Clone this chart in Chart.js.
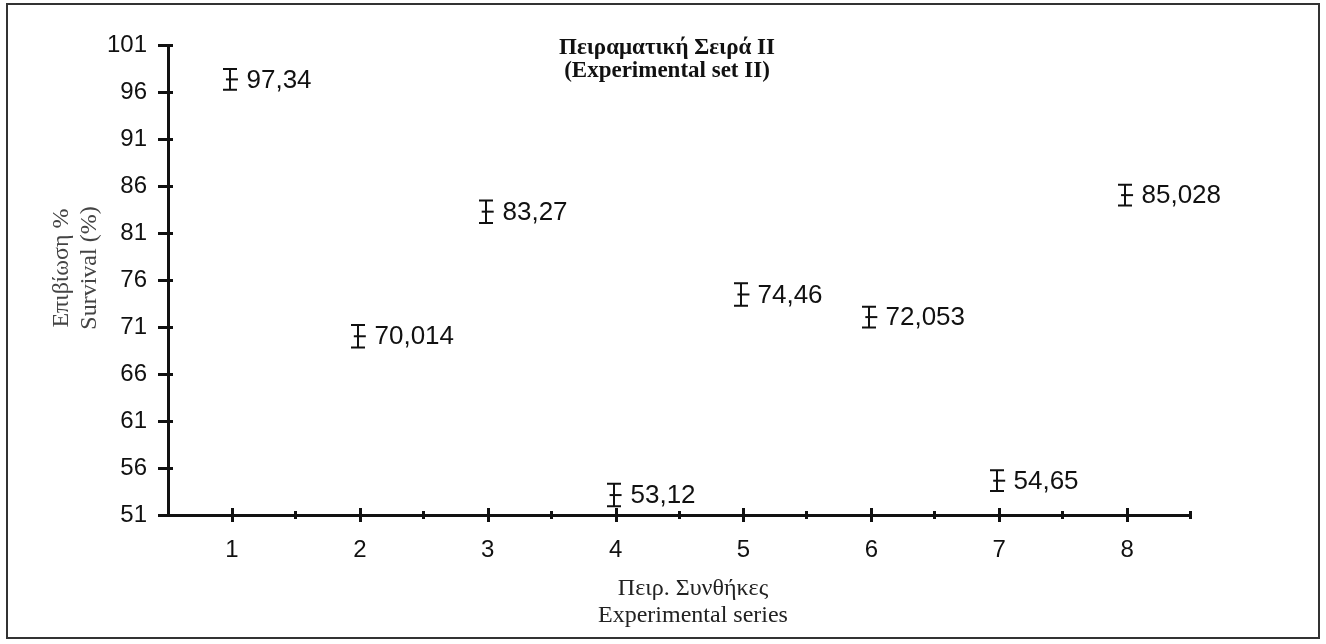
<!DOCTYPE html>
<html>
<head>
<meta charset="utf-8">
<script src="https://cdn.jsdelivr.net/npm/chart.js@4.4.1/dist/chart.umd.min.js"></script>
<style>
  html, body { margin: 0; padding: 0; background: #fff; }
  #wrap { position: relative; width: 1326px; height: 644px; }
</style>
</head>
<body>
<div id="wrap"><canvas id="chart" width="1326" height="644"></canvas></div>
<script>
// Experimental conditions (x) and mean survival % with error half-widths
const conditions = [1, 2, 3, 4, 5, 6, 7, 8];
const survival = [97.34, 70.014, 83.27, 53.12, 74.46, 72.053, 54.65, 85.028];
const survivalErr = [1.1, 1.2, 1.2, 1.2, 1.2, 1.1, 1.1, 1.1];

// Axis ticks
const yTicks = [51, 56, 61, 66, 71, 76, 81, 86, 91, 96, 101];
const xTicks = [1, 2, 3, 4, 5, 6, 7, 8];
const xMinorTicks = [1.5, 2.5, 3.5, 4.5, 5.5, 6.5, 7.5, 8.5];

// Text
const titleLines = ['Πειραματική Σειρά ΙΙ', '(Experimental set II)'];
const yTitleLines = ['Επιβίωση %', 'Survival (%)'];
const xTitleLines = ['Πειρ. Συνθήκες', 'Experimental series'];

const INK = '#111';
const SANS = '"Liberation Sans", Arial, sans-serif';
const SERIF = '"Liberation Serif", "Times New Roman", serif';

const fmt = v => String(v).replace('.', ',');

const decor = {
  id: 'decor',
  beforeDraw(chart) {
    const ctx = chart.ctx;
    ctx.save();
    ctx.fillStyle = '#fff';
    ctx.fillRect(0, 0, chart.width, chart.height);
    ctx.restore();
  },
  afterDraw(chart) {
    const ctx = chart.ctx;
    const xs = chart.scales.x, ys = chart.scales.y;
    ctx.save();

    // outer frame
    ctx.strokeStyle = '#333';
    ctx.lineWidth = 2;
    ctx.strokeRect(7, 4, 1312, 634);

    // y tick marks crossing the axis
    ctx.strokeStyle = INK;
    ctx.lineWidth = 3;
    const ax = xs.left;
    yTicks.forEach(v => {
      const y = Math.round(ys.getPixelForValue(v)) + 0.5;
      ctx.beginPath(); ctx.moveTo(ax - 10, y); ctx.lineTo(ax + 5, y); ctx.stroke();
    });

    // x tick marks crossing the axis
    const by = ys.bottom;
    xTicks.forEach(v => {
      const x = Math.round(xs.getPixelForValue(v)) + 0.5;
      ctx.beginPath(); ctx.moveTo(x, by - 7); ctx.lineTo(x, by + 7); ctx.stroke();
    });
    xMinorTicks.forEach(v => {
      const x = Math.round(xs.getPixelForValue(v)) - 0.5;
      ctx.beginPath(); ctx.moveTo(x, by - 4); ctx.lineTo(x, by + 4); ctx.stroke();
    });

    // error bars and value labels
    ctx.lineWidth = 2;
    ctx.font = '26px ' + SANS;
    ctx.fillStyle = INK;
    ctx.textAlign = 'left';
    ctx.textBaseline = 'middle';
    conditions.forEach((c, i) => {
      const x = Math.round(xs.getPixelForValue(c)) - 2.5;
      const yTop = ys.getPixelForValue(survival[i] + survivalErr[i]);
      const yBot = ys.getPixelForValue(survival[i] - survivalErr[i]);
      const y = ys.getPixelForValue(survival[i]);
      ctx.beginPath();
      ctx.moveTo(x + 0.5, yTop); ctx.lineTo(x + 0.5, yBot);
      ctx.moveTo(x - 6.5, yTop); ctx.lineTo(x + 7.5, yTop);
      ctx.moveTo(x - 6.5, yBot); ctx.lineTo(x + 7.5, yBot);
      ctx.stroke();
      ctx.fillText(fmt(survival[i]), x + 17, y + 1);
    });

    // chart title
    ctx.textAlign = 'center';
    ctx.font = 'bold 23px ' + SERIF;
    ctx.fillStyle = INK;
    ctx.fillText(titleLines[0], 667, 48);
    ctx.fillText(titleLines[1], 667, 71);

    // x axis title
    ctx.font = '24px ' + SERIF;
    ctx.fillStyle = '#222';
    ctx.fillText(xTitleLines[0], 693, 589);
    ctx.fillText(xTitleLines[1], 693, 616);

    // y axis title (rotated)
    ctx.fillStyle = '#444';
    ctx.translate(0, 268);
    ctx.rotate(-Math.PI / 2);
    ctx.fillText(yTitleLines[0], 0, 62);
    ctx.fillText(yTitleLines[1], 0, 90);

    ctx.restore();
  }
};

new Chart(document.getElementById('chart').getContext('2d'), {
  type: 'scatter',
  data: {
    datasets: [{
      data: conditions.map((c, i) => ({ x: c, y: survival[i] })),
      pointStyle: 'line',
      pointRadius: 6,
      borderColor: INK,
      backgroundColor: INK,
      borderWidth: 2,
      showLine: false
    }]
  },
  options: {
    responsive: false,
    animation: false,
    events: [],
    layout: { padding: { top: 45, right: 135, left: 0, bottom: 0 } },
    plugins: { legend: { display: false }, tooltip: { enabled: false } },
    scales: {
      x: {
        type: 'linear',
        min: 0.5,
        max: 8.5,
        afterFit(s) { s.height = 129; },
        afterBuildTicks(s) { s.ticks = xTicks.map(v => ({ value: v })); },
        grid: { display: false, drawTicks: false },
        border: { display: true, color: INK, width: 3 },
        ticks: { padding: 21, color: INK, font: { family: SANS, size: 24 }, maxRotation: 0, autoSkip: false }
      },
      y: {
        min: 51,
        max: 101,
        afterFit(s) { s.width = 168; },
        afterBuildTicks(s) { s.ticks = yTicks.map(v => ({ value: v })); },
        grid: { display: false, drawTicks: false },
        border: { display: true, color: INK, width: 3 },
        ticks: { padding: 21, color: INK, font: { family: SANS, size: 24 }, autoSkip: false }
      }
    }
  },
  plugins: [decor]
});
</script>
</body>
</html>
